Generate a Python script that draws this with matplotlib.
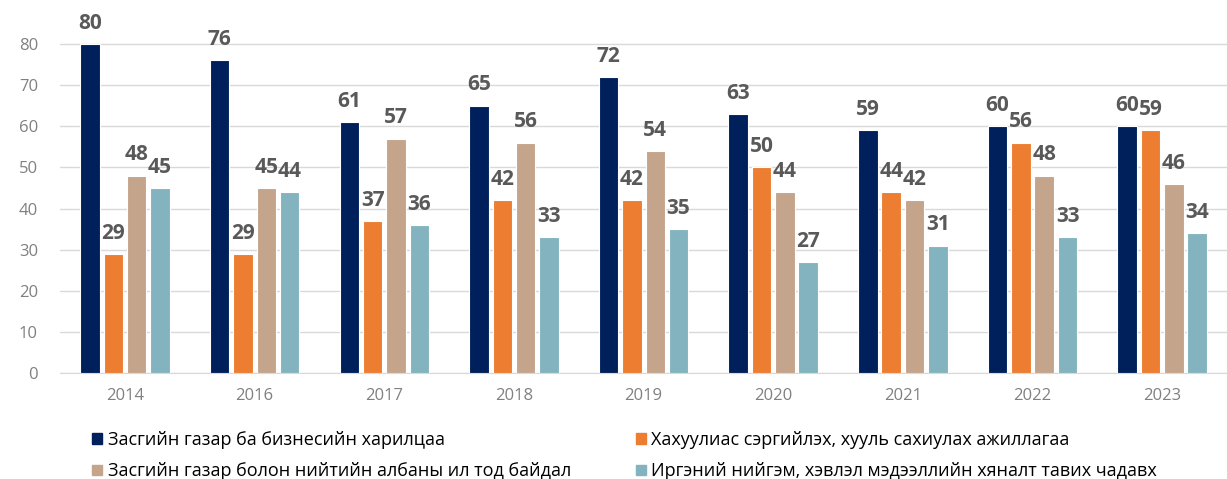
import numpy as np
import matplotlib.pyplot as plt
from matplotlib.patches import Patch

years = ['2014', '2016', '2017', '2018', '2019', '2020', '2021', '2022', '2023']
series_names = ['Засгийн газар ба бизнесийн харилцаа',
                'Хахуулиас сэргийлэх, хууль сахиулах ажиллагаа',
                'Засгийн газар болон нийтийн албаны ил тод байдал',
                'Иргэний нийгэм, хэвлэл мэдээллийн хяналт тавих чадавх']
business = [80, 76, 61, 65, 72, 63, 59, 60, 60]
law = [29, 29, 37, 42, 42, 50, 44, 56, 59]
transparency = [48, 45, 57, 56, 54, 44, 42, 48, 46]
civil = [45, 44, 36, 33, 35, 27, 31, 33, 34]
colors = ['#00205B', '#ED7D31', '#C4A58B', '#83B3BF']

plt.rcParams['font.family'] = ['Open Sans', 'DejaVu Sans']

fig = plt.figure(figsize=(12.27, 4.79), dpi=100)
ax = fig.add_axes([0.049, 0.221, 0.951, 0.756])

x = np.arange(len(years))
width = 0.15
step = 0.18
data = [business, law, transparency, civil]
for i, vals in enumerate(data):
    pos = x + (i - 1.5) * step
    bars = ax.bar(pos, vals, width, color=colors[i], edgecolor='white',
                  linewidth=0.8, zorder=3)
    for b, v in zip(bars, vals):
        ax.annotate(str(v), (b.get_x() + b.get_width() / 2, v),
                    xytext=(0, 11), textcoords='offset points',
                    ha='center', va='baseline', fontsize=15,
                    fontweight='bold', color='#595959')

ax.set_xlim(-0.5, len(years) - 0.5)
ax.set_ylim(0, 88)
ax.set_yticks(np.arange(0, 81, 10))
ax.set_xticks(x)
ax.set_xticklabels(years)
ax.yaxis.grid(True, color='#D9D9D9', linewidth=1, zorder=0)
ax.tick_params(axis='both', length=0, labelsize=12, colors='#808080')
ax.tick_params(axis='x', pad=11)
ax.tick_params(axis='y', pad=16)
for s in ['top', 'right', 'left']:
    ax.spines[s].set_visible(False)
ax.spines['bottom'].set_color('#D9D9D9')

handles = [Patch(color=c) for c in colors]
order = [0, 2, 1, 3]
fig.legend([handles[i] for i in order], [series_names[i] for i in order],
           ncol=2, loc='upper left', bbox_to_anchor=(0.065, 0.127),
           frameon=False, fontsize=13, handlelength=0.55, handleheight=0.55,
           handletextpad=0.3, columnspacing=3.6, labelspacing=0.75,
           borderpad=0.2, labelcolor='#000000')

fig.savefig('out.png', dpi=100)
